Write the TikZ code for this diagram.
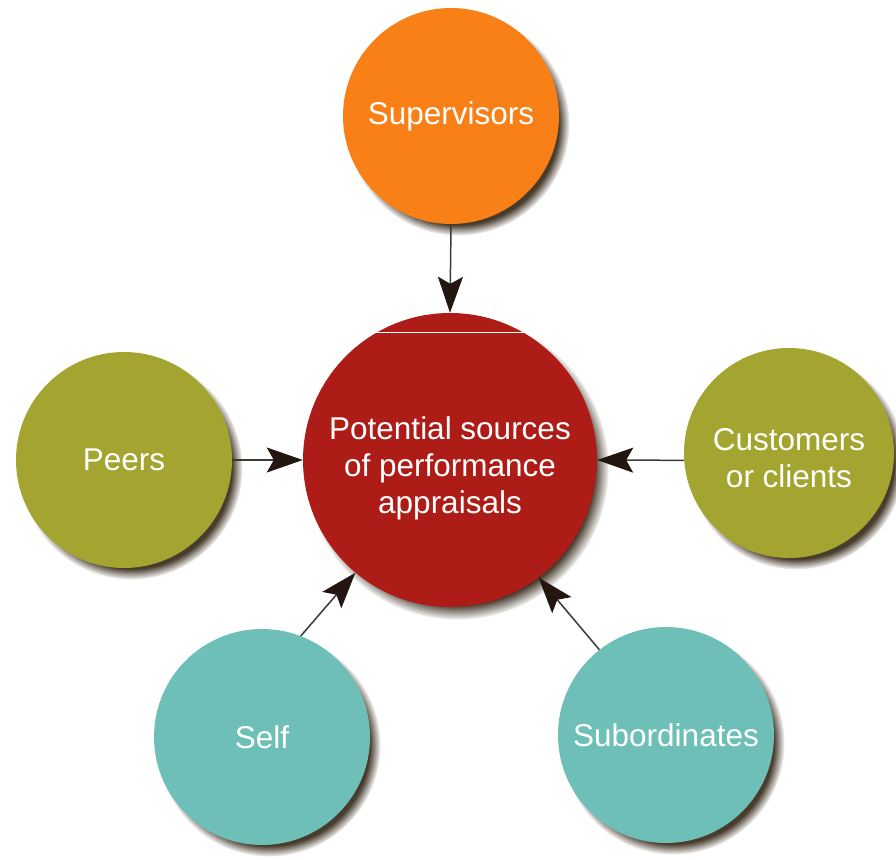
\documentclass[tikz,border=0pt]{standalone}
\usepackage{fontspec}
\setmainfont{Liberation Sans}
\usetikzlibrary{shadows,arrows.meta,fadings}
\definecolor{orangec}{RGB}{248,128,22}
\definecolor{redc}{RGB}{173,28,23}
\definecolor{olivec}{RGB}{163,165,48}
\definecolor{tealc}{RGB}{109,191,184}
\definecolor{shadowc}{RGB}{72,60,45}
\definecolor{arrowc}{RGB}{35,22,16}
\definecolor{linec}{RGB}{60,56,52}
\tikzset{
  bubble/.style={circle, inner sep=0pt, minimum size=216pt, text=white,
    align=center, font=\fontsize{31.5}{37}\selectfont,
    circular drop shadow={shadow xshift=7pt, shadow yshift=-8pt, shadow scale=1.03,
      fill=shadowc, opacity=1, path fading={circle with fuzzy edge 10 percent}}},
  txt/.style={text=white, align=center, font=\fontsize{31.5}{37}\selectfont, inner sep=0pt},
  conn/.style={draw=linec, line width=1.5pt,
    -{Stealth[length=36pt, width=25pt, inset=7pt, fill=arrowc, color=arrowc]}}
}
\begin{document}
\begin{tikzpicture}[x=1pt,y=-1pt]
\useasboundingbox[fill=white] (0,0) rectangle (896,859);
\node[bubble, fill=redc, minimum size=294pt,
  label={[txt, name=ctrtext, yshift=-8pt]center:{Potential sources\\of performance\\appraisals}}] (ctr) at (450,460) {};
\node[bubble, fill=orangec] (sup) at (451,116) {Supervisors};
\node[bubble, fill=olivec] (peers) at (124,460) {Peers};
\node[bubble, fill=olivec, minimum size=210pt,
  label={[txt, name=custtext, yshift=-5pt]center:{Customers\\or clients}}] (cust) at (789,453) {};
\node[bubble, fill=tealc] (self) at (262,737) {Self};
\node[bubble, fill=tealc] (sub) at (666,735) {Subordinates};
\draw[white, line width=0.8pt] (ctr.120) -- (ctr.60);
\draw[conn] (sup.south) -- (ctr.north);
\draw[conn] (peers.east) -- (ctr.west);
\draw[conn] (cust.184) -- (ctr.east);
\draw[conn] (self.69) -- (ctr.230);
\draw[conn] (sub.128) -- (ctr.307);
\end{tikzpicture}
\end{document}
